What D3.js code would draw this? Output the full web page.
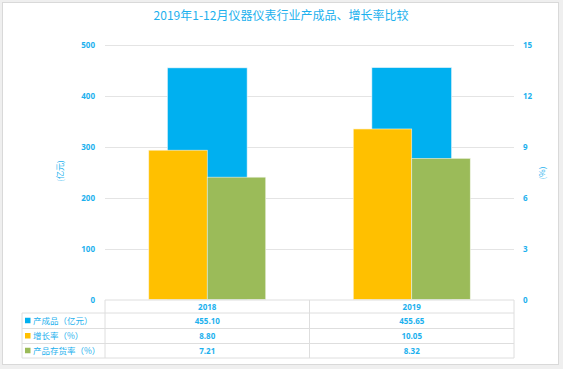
<!DOCTYPE html>
<html><head><meta charset="utf-8">
<script src="https://cdn.jsdelivr.net/npm/d3@7"></script>
<style>
html,body{margin:0;padding:0;background:#efefef;}
svg{display:block;font-family:"Noto Sans CJK SC","Noto Sans",sans-serif;}
</style></head>
<body><svg id="c" width="563" height="369"></svg>
<script>
const categories = ["2018", "2019"];
const outputVals = [455.10, 455.65];      // 产成品（亿元）
const growthVals = [8.80, 10.05];         // 增长率（%）
const inventoryVals = [7.21, 8.32];       // 产品存货率（%）
const leftTicks = [0, 100, 200, 300, 400, 500];
const rightTicks = [0, 3, 6, 9, 12, 15];
const seriesNames = ["产成品（亿元）", "增长率（%）", "产品存货率（%）"];
const title = "2019年1-12月仪器仪表行业产成品、增长率比较";

const blue = "#00B0F0", yellow = "#FFC000", green = "#9BBB59";
const textCol = "#1DB1EE";
const gridCol = "#e4e4e4";

const svg = d3.select("#c");
svg.append("rect").attr("x", 2.5).attr("y", 2.5).attr("width", 556).attr("height", 362)
  .attr("fill", "#fff").attr("stroke", "#d9d9d9");

svg.append("text").attr("x", 281).attr("y", 20).attr("text-anchor", "middle")
  .attr("font-size", 12).attr("fill", textCol).text(title);

const x0 = 105, x1 = 514, yTop = 45, yBot = 299.5;
const x = d3.scaleBand().domain(categories).range([x0, x1]).padding(0);
const yL = d3.scaleLinear().domain([0, 500]).range([yBot, yTop]);
const yR = d3.scaleLinear().domain([0, 15]).range([yBot, yTop]);

// gridlines
svg.append("g").selectAll("line").data(leftTicks.filter(d => d > 0)).join("line")
  .attr("x1", x0).attr("x2", x1).attr("y1", d => Math.round(yL(d)) + 0.5).attr("y2", d => Math.round(yL(d)) + 0.5)
  .attr("stroke", gridCol).attr("stroke-width", 1.2);

// left axis
const axL = d3.axisLeft(yL).tickValues(leftTicks).tickSize(0).tickPadding(10);
const gL = svg.append("g").attr("transform", `translate(${x0},0)`).call(axL);
gL.select(".domain").remove();
gL.selectAll("text").attr("fill", textCol).attr("font-size", 8).attr("font-weight", "bold")
  .attr("font-family", "'Noto Sans',sans-serif");

const axR = d3.axisRight(yR).tickValues(rightTicks).tickSize(0).tickPadding(9);
const gR = svg.append("g").attr("transform", `translate(${x1},0)`).call(axR);
gR.select(".domain").remove();
gR.selectAll("text").attr("fill", textCol).attr("font-size", 8).attr("font-weight", "bold")
  .attr("font-family", "'Noto Sans',sans-serif");

svg.append("text").attr("transform", "translate(63,171) rotate(-90)").attr("text-anchor", "middle")
  .attr("font-size", 8).attr("fill", textCol).text("(亿元)");
svg.append("text").attr("transform", "translate(545,173) rotate(-90)").attr("text-anchor", "middle")
  .attr("font-size", 8).attr("fill", textCol).text("(%)");

const bw = x.bandwidth();
const blueW = bw * 0.39, pairW = bw * 0.572;

// blue (primary axis) behind
svg.append("g").selectAll("rect").data(categories).join("rect")
  .attr("x", (d) => x(d) + bw / 2 - blueW / 2).attr("width", blueW)
  .attr("y", (d, i) => yL(outputVals[i])).attr("height", (d, i) => yBot - yL(outputVals[i]))
  .attr("fill", blue).attr("stroke", "#eaf6fb").attr("stroke-width", 0.6);

// secondary axis bars
svg.append("g").selectAll("rect").data(categories).join("rect")
  .attr("x", (d) => x(d) + bw / 2 - pairW / 2).attr("width", pairW / 2)
  .attr("y", (d, i) => yR(growthVals[i])).attr("height", (d, i) => yBot - yR(growthVals[i]))
  .attr("fill", yellow).attr("stroke", "#fdf3d6").attr("stroke-width", 0.6);
svg.append("g").selectAll("rect").data(categories).join("rect")
  .attr("x", (d) => x(d) + bw / 2).attr("width", pairW / 2)
  .attr("y", (d, i) => yR(inventoryVals[i])).attr("height", (d, i) => yBot - yR(inventoryVals[i]))
  .attr("fill", green).attr("stroke", "#eef3e4").attr("stroke-width", 0.6);

// data table
const rowY = [300, 313, 328.5, 343.5, 358];
const legX = 22;
const tcol = "#dedede";
const t = svg.append("g");
t.append("line").attr("x1", x0).attr("x2", x1).attr("y1", rowY[0]).attr("y2", rowY[0]).attr("stroke", tcol);
for (let r = 1; r < rowY.length; r++) {
  t.append("line").attr("x1", legX).attr("x2", x1).attr("y1", rowY[r]).attr("y2", rowY[r]).attr("stroke", tcol);
}
t.append("line").attr("x1", legX).attr("x2", legX).attr("y1", rowY[1]).attr("y2", rowY[4]).attr("stroke", tcol);
[x0, x(categories[1]), x1].forEach(xx => {
  t.append("line").attr("x1", xx).attr("x2", xx).attr("y1", rowY[0]).attr("y2", rowY[4]).attr("stroke", tcol);
});

categories.forEach((c, i) => {
  t.append("text").attr("x", x(c) + bw / 2).attr("y", (rowY[0] + rowY[1]) / 2 + 3)
    .attr("text-anchor", "middle").attr("font-size", 8).attr("font-weight", "bold")
    .attr("font-family", "'Noto Sans',sans-serif").attr("fill", textCol).text(c);
});
const tableVals = [outputVals, growthVals, inventoryVals];
const colors = [blue, yellow, green];
tableVals.forEach((vals, r) => {
  const cy = (rowY[r + 1] + rowY[r + 2]) / 2;
  t.append("rect").attr("x", legX + 3).attr("y", cy - 3).attr("width", 5.5).attr("height", 5.5).attr("fill", colors[r]);
  t.append("text").attr("x", legX + 11).attr("y", cy + 3).attr("font-size", 8.5)
    .attr("fill", textCol).text(seriesNames[r]);
  vals.forEach((v, i) => {
    t.append("text").attr("x", x(categories[i]) + bw / 2).attr("y", cy + 3)
      .attr("text-anchor", "middle").attr("font-size", 8).attr("font-weight", "bold")
      .attr("font-family", "'Noto Sans',sans-serif").attr("fill", textCol).text(v.toFixed(2));
  });
});
</script></body></html>
